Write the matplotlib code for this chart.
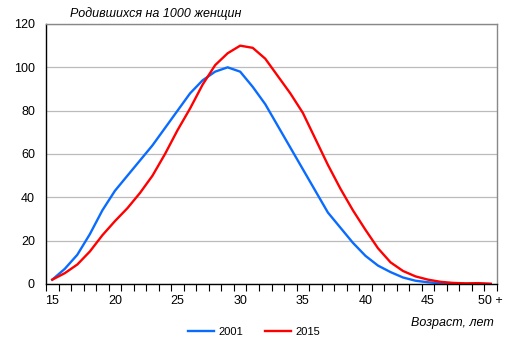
import matplotlib
matplotlib.use("Agg")
import matplotlib.pyplot as plt
import numpy as np

plt.rcParams['font.family'] = ['Liberation Sans', 'DejaVu Sans']

ages = list(range(15, 51))
births_2001 = [2, 7, 13.5, 23, 34, 43, 50, 57, 64, 72, 80, 88, 94, 98, 100, 98, 91, 83, 73, 63,
               53, 43, 33, 26, 19, 13, 8.5, 5.5, 3, 1.5, 0.8, 0.3, 0.1, 0.05, 0.02, 0.01]
births_2015 = [2, 5, 9, 15, 22.5, 29, 35, 42, 50, 60, 71, 81, 92, 101, 106.5, 110, 109, 104, 96, 88,
               79, 67, 55, 44, 34, 25, 16.5, 10, 6, 3.5, 2, 1, 0.5, 0.3, 0.4, 0.1]
tick_ages = [15, 20, 25, 30, 35, 40, 45, 50]
tick_labels = ['15', '20', '25', '30', '35', '40', '45', '50 +']
y_ticks = [0, 20, 40, 60, 80, 100, 120]

fig = plt.figure(figsize=(5.12, 3.52), dpi=100)
ax = fig.add_axes([46/512, 1-284/352, (497-46)/512, (284-24)/352])

ax.plot(ages, births_2001, color='#0A6CFF', lw=1.7, label='2001')
ax.plot(ages, births_2015, color='#FF0000', lw=1.7, label='2015')

ax.set_xlim(14.5, 50.5)
ax.set_ylim(0, 120)
ax.set_yticks(y_ticks)
ax.set_yticklabels([str(v) for v in y_ticks], fontsize=9)
ax.tick_params(axis='y', length=0, pad=8)
ax.set_xticks(tick_ages)
ax.set_xticklabels(tick_labels, fontsize=9)
ax.set_xticks(np.arange(14.5, 51, 1), minor=True)
ax.tick_params(axis='x', which='major', length=0, pad=8)
ax.tick_params(axis='x', which='minor', length=5, width=0.8, direction='out', color='black')
ax.grid(axis='y', color='#BBBBBB', lw=0.9)
ax.set_axisbelow(True)
for s in ['top', 'right']:
    ax.spines[s].set_color('#888888')
    ax.spines[s].set_linewidth(1.0)
for s in ['left', 'bottom']:
    ax.spines[s].set_color('black')
    ax.spines[s].set_linewidth(1.0)

fig.text(70/512, 1-14/352, 'Родившихся на 1000 женщин', fontsize=9, style='italic', va='center', ha='left')
fig.text(494/512, 1-323/352, 'Возраст, лет', fontsize=9, style='italic', va='center', ha='right')

fig.legend(loc='center', bbox_to_anchor=(254/512, 1-332/352), ncol=2, frameon=False,
           fontsize=8, handlelength=2.3, columnspacing=2.0, handletextpad=0.4)

fig.savefig('out.png', dpi=100)
